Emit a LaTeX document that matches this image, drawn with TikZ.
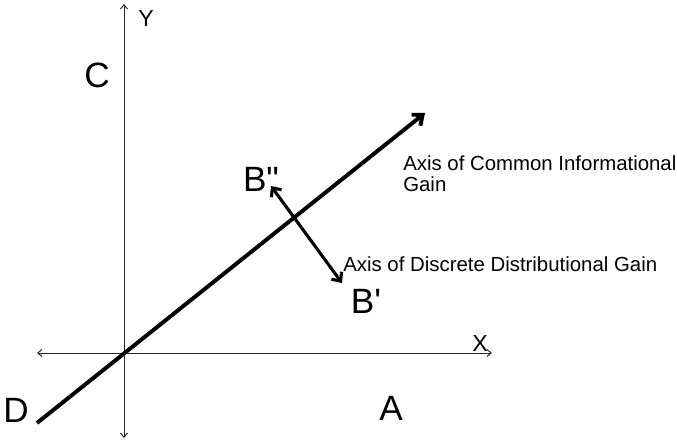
\documentclass[tikz,border=0pt]{standalone}
\usepackage{fontspec}
\setmainfont{Liberation Sans}
\usetikzlibrary{arrows.meta}

\begin{document}
\begin{tikzpicture}[x=0.025cm,y=-0.025cm,
  axis/.style={line width=0.7pt,black!85,
    {Straight Barb[length=3pt,width=5pt]}-{Straight Barb[length=3pt,width=5pt]}},
  gain/.style={line width=2.8pt,-{Straight Barb[length=6pt,width=10pt]}},
  split/.style={line width=2.2pt,
    {Straight Barb[length=5pt,width=9pt]}-{Straight Barb[length=5pt,width=9pt]}},
  big/.style={font=\fontsize{25}{27}\selectfont,inner sep=0pt},
  small/.style={font=\fontsize{16.5}{18}\selectfont,inner sep=0pt},
  caption/.style={font=\fontsize{14.5}{15}\selectfont,inner sep=0pt,align=left}]
\useasboundingbox (0,0) rectangle (677,442);
% Axes
\coordinate (O) at (124,353);
\coordinate (xl) at (37,353);
\coordinate (xr) at (492,353);
\coordinate (yt) at (124,4);
\coordinate (yb) at (124,438);
\draw[axis] (xl) -- (xr);
\draw[axis] (yb) -- (yt);
\node[small] (Y) at (146,19) {Y};
\node[small] (X) at (480,344) {X};
% Gain axes
\coordinate (d0) at (37,423);
\coordinate (d1) at (425,113);
\coordinate (b0) at (271,186);
\coordinate (b1) at (342,283);
\draw[gain] (d0) -- (d1);
\draw[split] (b0) -- (b1);
% Quadrant letters
\node[big] (C) at (97,75) {C};
\node[big] (D) at (16,410) {D};
\node[big] (A) at (391,408) {A};
\node[big] (B2) at (261,179) {B\textquotedbl};
\node[big] (B1) at (366,301) {B\textquotesingle};
% Labels
\node[caption,anchor=north west] (common) at (403,155)
  {Axis of Common Informational\\Gain};
\node[caption,anchor=base west] (discrete) at (343,271)
  {Axis of Discrete Distributional Gain};
\end{tikzpicture}
\end{document}
